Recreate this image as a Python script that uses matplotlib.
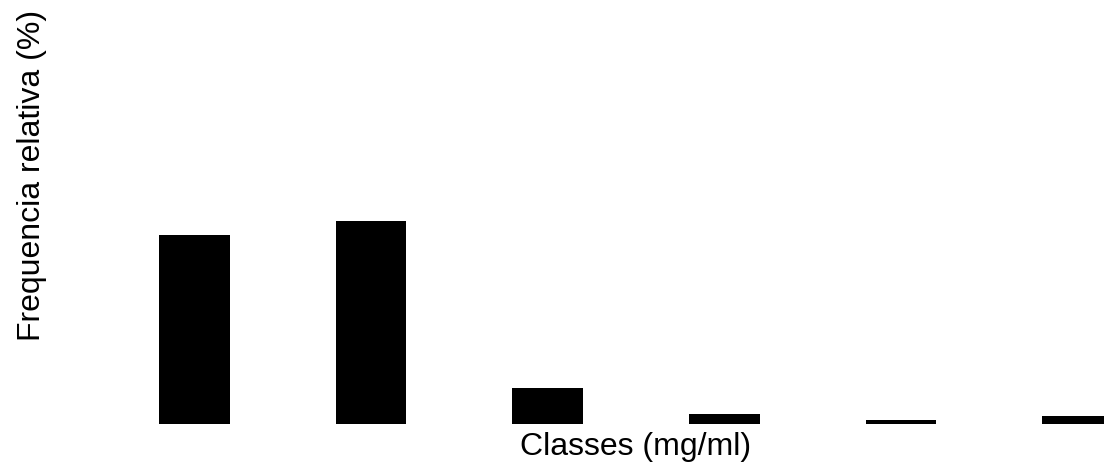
import matplotlib.pyplot as plt
import numpy as np

# 클래스별 상대 빈도 (%)
classes = ["1", "2", "3", "4", "5", "6"]
freq = [42.0, 45.1, 8.0, 2.3, 0.8, 1.7]

plt.rcParams['font.family'] = ['Liberation Sans', 'DejaVu Sans']

fig = plt.figure(figsize=(11.04, 4.63), dpi=100)
ax = fig.add_axes([106.2 / 1104, 39 / 463, 1059.6 / 1104, 424 / 463])

x = np.arange(len(classes))
ax.bar(x, freq, width=0.4, color='black')

ax.set_xlim(-0.5, 5.5)
ax.set_ylim(0, 424 / 4.5)
ax.set_xticks([])
ax.set_yticks([])
for s in ax.spines.values():
    s.set_visible(False)

ax.set_xlabel("Classes (mg/ml)", fontsize=23, labelpad=6)
ax.set_ylabel("Frequencia relativa (%)", fontsize=23)
ax.yaxis.set_label_coords(-0.0559, 0.587)

fig.savefig("out.png", dpi=100)
